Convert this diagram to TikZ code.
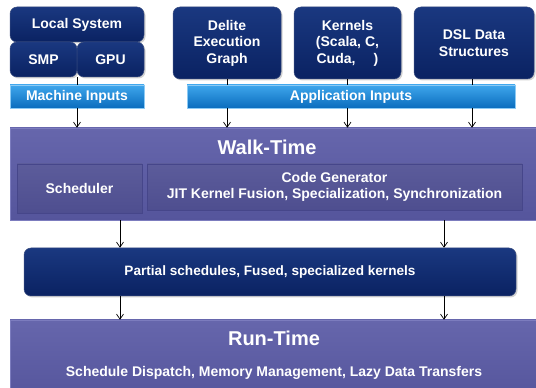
\documentclass[tikz,border=0pt]{standalone}
\usepackage{fontspec}
\setmainfont{Liberation Sans}
\usetikzlibrary{arrows.meta,shadows}
\definecolor{navyT}{HTML}{1A3880}
\definecolor{navyB}{HTML}{0A2262}
\definecolor{purT}{HTML}{6666AC}
\definecolor{purB}{HTML}{55559C}
\definecolor{purE}{HTML}{7C7CBE}
\definecolor{purD}{HTML}{46468A}
\definecolor{bluT}{HTML}{3FA6EC}
\definecolor{bluB}{HTML}{0A6DBE}
\tikzset{
  navybox/.style={rounded corners=7pt, top color=navyT, bottom color=navyB, draw=navyB!80!white, line width=0.5pt,
    drop shadow={shadow xshift=1.5pt, shadow yshift=-1.5pt, opacity=0.35},
    text=white, font=\bfseries\fontsize{14}{16.5}\selectfont, align=center, inner sep=0pt},
  bluebar/.style={top color=bluT, bottom color=bluB, draw=bluT!60!white, line width=0.5pt,
    drop shadow={shadow xshift=1.2pt, shadow yshift=-1.2pt, opacity=0.3},
    text=white, font=\bfseries\fontsize{14}{16.5}\selectfont, inner sep=0pt},
  purbox/.style={top color=purT, bottom color=purB, draw=purE, line width=0.5pt,
    drop shadow={shadow xshift=1.5pt, shadow yshift=-1.5pt, opacity=0.35}, inner sep=0pt},
  innerbox/.style={top color=purT!90!black, bottom color=purB!92!black, draw=purD, line width=0.6pt,
    drop shadow={shadow xshift=1.2pt, shadow yshift=-1.2pt, opacity=0.4},
    text=white, font=\bfseries\fontsize{14}{16.5}\selectfont, align=center, inner sep=0pt},
  titletext/.style={text=white, font=\bfseries\fontsize{20}{24}\selectfont, inner sep=0pt},
  subtext/.style={text=white, font=\bfseries\fontsize{14}{16.5}\selectfont, inner sep=0pt},
  conn/.style={line width=0.7pt, black},
  arr/.style={conn, -{Straight Barb[length=5pt,width=7pt]}},
}
\begin{document}
\begin{tikzpicture}[x=1pt,y=1pt]
\clip (0,0) rectangle (536,388);
\fill[white] (0,0) rectangle (536,388);

% top left group
\node[navybox, minimum width=134pt, minimum height=35pt] (local) at (77,363.5) {Local System};
\node[navybox, minimum width=67pt, minimum height=35pt] (smp) at (43.5,328.5) {SMP};
\node[navybox, minimum width=67pt, minimum height=35pt] (gpu) at (110.5,328.5) {GPU};
\node[bluebar, minimum width=134pt, minimum height=23pt] (machine) at (77,291.5) {Machine Inputs};

% top right group
\node[navybox, minimum width=108pt, minimum height=72pt] (delite) at (227,345) {Delite\\Execution\\Graph};
\node[navybox, minimum width=107pt, minimum height=72pt] (kernels) at (347.5,345) {Kernels\\(Scala, C,\\Cuda,\hspace{1.3em})};
\node[navybox, minimum width=120pt, minimum height=72pt] (dsl) at (474,345) {DSL Data\\Structures};
\node[bluebar, minimum width=328pt, minimum height=23pt] (app) at (351,291.5) {Application Inputs};

% walk-time
\node[purbox, minimum width=535pt, minimum height=92pt] (walk) at (277.5,214) {};
\node[titletext] (walktitle) at (267,241) {Walk-Time};
\node[innerbox, minimum width=125pt, minimum height=49pt] (sched) at (79.5,199.5) {Scheduler};
\node[innerbox, minimum width=375pt, minimum height=46pt] (codegen) at (334.5,201) {Code Generator\\JIT Kernel Fusion, Specialization, Synchronization};

% partial
\node[navybox, minimum width=492pt, minimum height=48pt, font=\bfseries\fontsize{13.6}{16}\selectfont] (partial) at (270,116) {Partial schedules, Fused, specialized kernels};

% run-time
\node[purbox, minimum width=535pt, minimum height=80pt] (run) at (277.5,28) {};
\node[titletext] (runtitle) at (274,50) {Run-Time};
\node[subtext] (runsub) at (274,15) {Schedule Dispatch, Memory Management, Lazy Data Transfers};

% connectors
\coordinate (c2) at (120,0);
\coordinate (c3) at (444,0);
\coordinate (c4) at (472,0);
\draw[conn] (smp.south east) -- (machine.north -| smp.south east);
\draw[arr] (machine.south) -- (walk.north -| machine.south);
\draw[conn] (delite.south) -- (app.north -| delite.south);
\draw[arr] (app.south -| delite.south) -- (walk.north -| delite.south);
\draw[conn] (kernels.south) -- (app.north -| kernels.south);
\draw[arr] (app.south -| kernels.south) -- (walk.north -| kernels.south);
\draw[conn] (dsl.south -| c4) -- (app.north -| c4);
\draw[arr] (app.south -| c4) -- (walk.north -| c4);
\draw[arr] (walk.south -| c2) -- (partial.north -| c2);
\draw[arr] (walk.south -| c3) -- (partial.north -| c3);
\draw[arr] (partial.south -| c2) -- (run.north -| c2);
\draw[arr] (partial.south -| c3) -- (run.north -| c3);
\end{tikzpicture}
\end{document}
